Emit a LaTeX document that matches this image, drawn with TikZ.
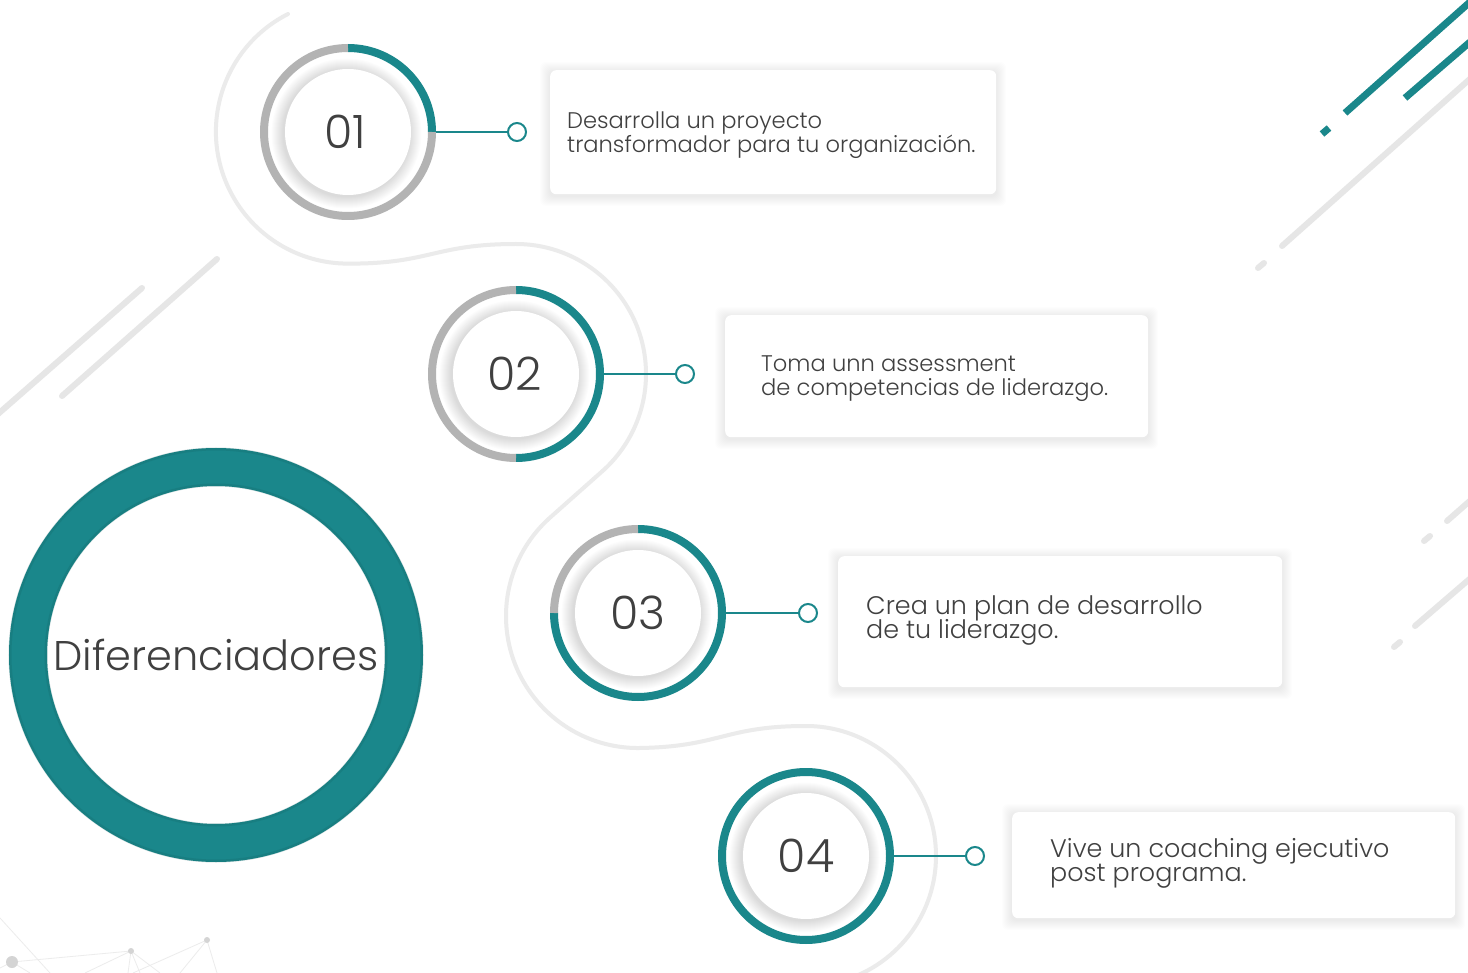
\documentclass[tikz,border=0pt]{standalone}
\usepackage{fontspec}
\setmainfont{Poppins}
\newfontfamily\lightfont{Poppins Light}
\definecolor{teal1}{HTML}{1A878B}
\definecolor{ringgrey}{HTML}{B3B3B3}
\definecolor{deco}{HTML}{E6E6E6}
\definecolor{netc}{HTML}{ECECEC}
\definecolor{txt}{HTML}{404040}
\newcommand\tightlines{\lineskiplimit=-30pt\relax\lineskip=0pt\relax}
\newcommand\cardshadow[4]{\foreach \k in {1,...,10}{\fill[black,opacity=0.007,rounded corners=6] ({#1-\k},{#2-\k+2}) rectangle ({#3+\k},{#4+\k+2});}}
\newcommand\diskshadow[2]{\foreach \k in {1,...,12}{\fill[black,opacity=0.012] ({#1-1.5},{#2+1.5}) circle[radius={63+\k}];}\fill[white] (#1,#2) circle[radius=63];}
\begin{document}
\begin{tikzpicture}[x=1pt,y=-1pt,
  decoline/.style={deco,line width=6,line cap=round},
  tealdeco/.style={teal1,line width=7},
  serp/.style={draw=deco!80!white,line width=4,line cap=round},
  tealring/.style={teal1,line width=8},
  greyring/.style={ringgrey,line width=8},
  numnode/.style={circle,minimum size=176,inner sep=0,text=txt,font=\lightfont\fontsize{46}{46}\selectfont},
  dotnode/.style={circle,draw=teal1,line width=2,fill=white,minimum size=18,inner sep=0},
  conn/.style={teal1,line width=2},
  cardbox/.style={fill=white,rounded corners=6,inner sep=0,anchor=north west},
  cardtext/.style={anchor=west,align=left,inner sep=0,text=txt},
  smalltext/.style={font=\lightfont\fontsize{22.6}{24}\selectfont\tightlines},
  bigtext/.style={font=\lightfont\fontsize{25.4}{24}\selectfont\tightlines},
  netline/.style={netc,line width=0.8}]
\useasboundingbox (0,0) rectangle (1468,973);
\fill[white] (0,0) rectangle (1468,973);

% bottom-left network
\draw[netline] (0,918) -- (50,973);
\draw[netline] (12,962) -- (131,951);
\draw[netline] (12,962) -- (0,968);
\draw[netline] (12,962) -- (30,973);
\draw[netline] (131,951) -- (85,973);
\draw[netline] (131,951) -- (128,973);
\draw[netline] (131,951) -- (140,973);
\draw[netline] (131,951) -- (160,973);
\draw[netline] (207,940) -- (133,973);
\draw[netline] (207,940) -- (180,973);
\draw[netline] (207,940) -- (217,973);
\fill[netc!90!black] (12,962) circle[radius=6];
\fill[netc!90!black] (131,951) circle[radius=3];
\fill[netc!90!black] (207,940) circle[radius=3];

% decorative diagonal lines
\draw[decoline] (142,288) -- (-10,421);
\draw[decoline] (217,259) -- (62,396);
\draw[decoline] (1282,246) -- (1480,70);
\draw[decoline] (1258,268) -- (1264,263);
\draw[decoline] (1447,521) -- (1480,492);
\draw[decoline] (1424,541) -- (1430,536);
\draw[decoline] (1415,626) -- (1480,570);
\draw[decoline] (1394,647) -- (1400,642);
\draw[tealdeco] (1345,113) -- (1470,2);
\draw[tealdeco] (1405,98) -- (1470,42);
\draw[tealdeco] (1322,134) -- (1329,128);

% serpentine guide line
\draw[serp] (288,14) arc[start angle=243,end angle=90,radius=132]
  .. controls (430,264) and (434,244) .. (516,244)
  arc[start angle=270,end angle=409,radius=130]
  -- (551.4,516.4)
  arc[start angle=229,end angle=90,radius=132]
  .. controls (720,747) and (724,726) .. (806,726)
  arc[start angle=270,end angle=440,radius=130];

% big circle
\draw[teal1,line width=38] (216,655) circle[radius=188];
\draw[teal1!70!black,line width=3,opacity=0.22] (216,655) circle[radius=206];
\draw[teal1!70!black,line width=3,opacity=0.22] (216,655) circle[radius=170];
\node[inner sep=0,text=txt,font=\lightfont\fontsize{41.5}{41.5}\selectfont] (main) at (216,655) {Diferenciadores};

% step circles
\diskshadow{348}{132}
\diskshadow{516}{374}
\diskshadow{638}{613}
\diskshadow{806}{856}
\draw[tealring] (348,48) arc[start angle=270,end angle=360,radius=84];
\draw[greyring] (432,132) arc[start angle=0,end angle=270,radius=84];
\draw[tealring] (516,290) arc[start angle=270,end angle=450,radius=84];
\draw[greyring] (516,458) arc[start angle=90,end angle=270,radius=84];
\draw[tealring] (638,529) arc[start angle=270,end angle=540,radius=84];
\draw[greyring] (554,613) arc[start angle=180,end angle=270,radius=84];
\draw[tealring] (806,856) circle[radius=84];

\node[numnode] (n1) at (348,132) {\raisebox{-2.5pt}{\hspace*{-6pt}01}};
\node[numnode] (n2) at (516,374) {\raisebox{-2pt}{\hspace*{-3pt}02}};
\node[numnode] (n3) at (638,613) {\raisebox{-2.5pt}{03}};
\node[numnode] (n4) at (806,856) {\raisebox{-2pt}{04}};

\node[dotnode] (d1) at (517,132) {};
\node[dotnode] (d2) at (685,374) {};
\node[dotnode] (d3) at (808,613) {};
\node[dotnode] (d4) at (975,856) {};
\draw[conn] (n1.east) -- (d1.west);
\draw[conn] (n2.east) -- (d2.west);
\draw[conn] (n3.east) -- (d3.west);
\draw[conn] (n4.east) -- (d4.west);

% cards
\cardshadow{550}{70}{996}{194}
\cardshadow{725}{315}{1148}{437}
\cardshadow{838}{556}{1282}{687}
\cardshadow{1012}{812}{1455}{918}
\node[cardbox,minimum width=446,minimum height=124] (c1) at (550,70) {};
\node[cardbox,minimum width=423,minimum height=122] (c2) at (725,315) {};
\node[cardbox,minimum width=444,minimum height=131] (c3) at (838,556) {};
\node[cardbox,minimum width=443,minimum height=106] (c4) at (1012,812) {};
\node[cardtext,smalltext] (t1) at ([xshift=17,yshift=-3]c1.west) {Desarrolla un proyecto\\transformador para tu organización.};
\node[cardtext,smalltext] (t2) at ([xshift=36,yshift=-2]c2.west) {Toma unn assessment\\de competencias de liderazgo.};
\node[cardtext,bigtext] (t3) at ([xshift=28,yshift=1.5]c3.west) {Crea un plan de desarrollo\\de tu liderazgo.};
\node[cardtext,bigtext] (t4) at ([xshift=38,yshift=1.5]c4.west) {Vive un coaching ejecutivo\\post programa.};
\end{tikzpicture}
\end{document}
